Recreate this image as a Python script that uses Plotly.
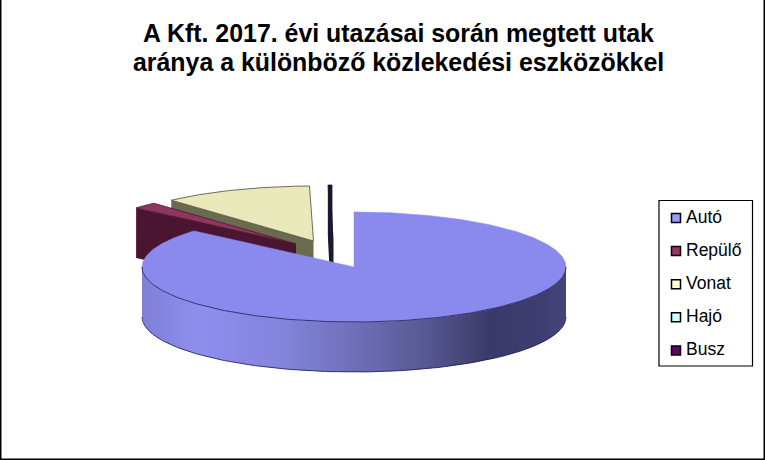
import numpy as np
import plotly.graph_objects as go

# values, percent of the distance
categories = ["Autó", "Repülő", "Vonat", "Hajó", "Busz"]
shares = [86.4, 1.9, 11.4, 0.1, 0.2]
title_lines = ["A Kft. 2017. évi utazásai során megtett utak",
               "aránya a különböző közlekedési eszközökkel"]

legend_colors = ["#9999FF", "#993366", "#FFFFCC", "#CCFFFF", "#660066"]
top_colors = ["#8A8AEE", "#8E3560", "#E9E9BC", "#BFEFEF", "#1E1430"]
cut_colors = ["#4C4C80", "#4A1530", "#6A6A4E", "#5F7F7F", "#1A1A30"]
edge_colors = ["#1A1A50", "#4A1530", "#4A4A38", "#3F5555", "#1A1A30"]
cut_widths = [0, 0, 0, 0, 3]

# how far each slice is pulled out of the pie, pixels
pull_x = [0, -58, -40.5, -22, -22]
pull_y = [0, -23, -26, -27, -27]

# shading along the front wall of the big slice
wall_x = [142, 200, 280, 354, 430, 490, 540, 566]
wall_rgb = [(128, 128, 216), (142, 142, 238), (132, 132, 220), (111, 111, 184),
            (86, 86, 144), (58, 58, 104), (61, 61, 112), (69, 69, 122)]

CX, CY = 354, 267
RX, RY = 212, 55
DEPTH = 50

LEG_X = 676
LEG_Y0 = 218
LEG_STEP = 33.1


def rim(deg, dx=0, dy=0):
    t = np.radians(deg)
    return CX + dx + RX * np.sin(t), CY + dy - RY * np.cos(t)


fig = go.Figure()

ends = np.cumsum(shares) / sum(shares) * 360
starts = np.concatenate([[0], ends[:-1]])


def add_poly(xs, ys, fill, line=None, width=1):
    fig.add_trace(go.Scatter(x=xs, y=ys, mode="lines", fill="toself", fillcolor=fill,
                             line=dict(color=line or fill, width=width),
                             hoverinfo="skip", showlegend=False))


def add_slice(i):
    a, b = starts[i], ends[i]
    dx, dy = pull_x[i], pull_y[i]
    ang = np.linspace(a, b, max(int(b - a) * 2, 2))
    ax, ay = CX + dx, CY + dy
    sx, sy = rim(a, dx, dy)
    # cut face that looks towards the viewer
    add_poly([ax, sx, sx, ax, ax], [ay, sy, sy + DEPTH, ay + DEPTH, ay], cut_colors[i], None, cut_widths[i])
    rx, ry = rim(ang, dx, dy)
    add_poly([ax] + list(rx) + [ax], [ay] + list(ry) + [ay], top_colors[i], edge_colors[i], 0.8)


# back to front
for i in [3, 4, 2, 1]:
    add_slice(i)

# big slice: front wall in strips, then the top face
strip_x = np.linspace(wall_x[0], wall_x[-1], 107)
for x0, x1 in zip(strip_x[:-1], strip_x[1:]):
    mid = (x0 + x1) / 2
    r, g, b = [np.interp(mid, wall_x, [c[k] for c in wall_rgb]) for k in range(3)]
    xs = np.linspace(x0, min(x1 + 1, wall_x[-1]), 4)
    low = CY + RY * np.sqrt(np.clip(1 - ((xs - CX) / RX) ** 2, 0, 1))
    add_poly(list(xs) + list(xs[::-1]) + [xs[0]],
             list(low) + list(low[::-1] + DEPTH) + [low[0]],
             f"rgb({r:.0f},{g:.0f},{b:.0f})", None, 0)

ang = np.linspace(starts[0], ends[0], 400)
tx, ty = rim(ang)
add_poly([CX] + list(tx) + [CX], [CY] + list(ty) + [CY], top_colors[0], top_colors[0], 0.5)

# thin dark outline on the front of the rim and bottom of the wall
ang = np.linspace(90, 270, 200)
tx, ty = rim(ang)
fig.add_trace(go.Scatter(x=tx, y=ty, mode="lines", line=dict(color=edge_colors[0], width=0.8),
                         hoverinfo="skip", showlegend=False))
fig.add_trace(go.Scatter(x=tx, y=ty + DEPTH, mode="lines", line=dict(color=edge_colors[0], width=0.8),
                         hoverinfo="skip", showlegend=False))

# legend squares
legend_y = [LEG_Y0 + LEG_STEP * i for i in range(len(categories))]
fig.add_trace(go.Scatter(
    x=[LEG_X] * len(categories),
    y=legend_y,
    mode="markers",
    marker=dict(symbol="square", size=9, color=legend_colors, line=dict(color="black", width=1.5)),
    hoverinfo="skip", showlegend=False))

notes = [
    dict(text=line, x=398, y=y, xref="x", yref="y", xanchor="center", yanchor="middle",
         showarrow=False, font=dict(family="Liberation Sans", size=24.9, color="black", weight="bold"))
    for line, y in zip(title_lines, [32.5, 61.5])
]
# legend names
for name, y in zip(categories, legend_y):
    notes.append(dict(text=name, x=LEG_X + 7.5, y=y - 1, xref="x", yref="y", xanchor="left", yanchor="middle",
                      showarrow=False, font=dict(family="Liberation Sans", size=17.5, color="black")))

fig.update_layout(
    width=765, height=460,
    margin=dict(l=0, r=0, t=0, b=0),
    paper_bgcolor="white", plot_bgcolor="white",
    showlegend=False,
    xaxis=dict(range=[0, 765], visible=False, fixedrange=True),
    yaxis=dict(range=[460, 0], visible=False, fixedrange=True),
    annotations=notes,
    shapes=[
        dict(type="rect", xref="x", yref="y", x0=659, y0=200.5, x1=752.5, y1=366,
             line=dict(color="black", width=1.2)),
        dict(type="line", xref="paper", yref="paper", x0=0, y0=0, x1=0, y1=1, line=dict(color="black", width=3)),
        dict(type="line", xref="paper", yref="paper", x0=1, y0=0, x1=1, y1=1, line=dict(color="black", width=3)),
        dict(type="line", xref="paper", yref="paper", x0=0, y0=0, x1=1, y1=0, line=dict(color="black", width=3)),
    ],
)

fig.write_html("out.html", config={"displayModeBar": False},
               post_script="document.body.style.margin='0';")
